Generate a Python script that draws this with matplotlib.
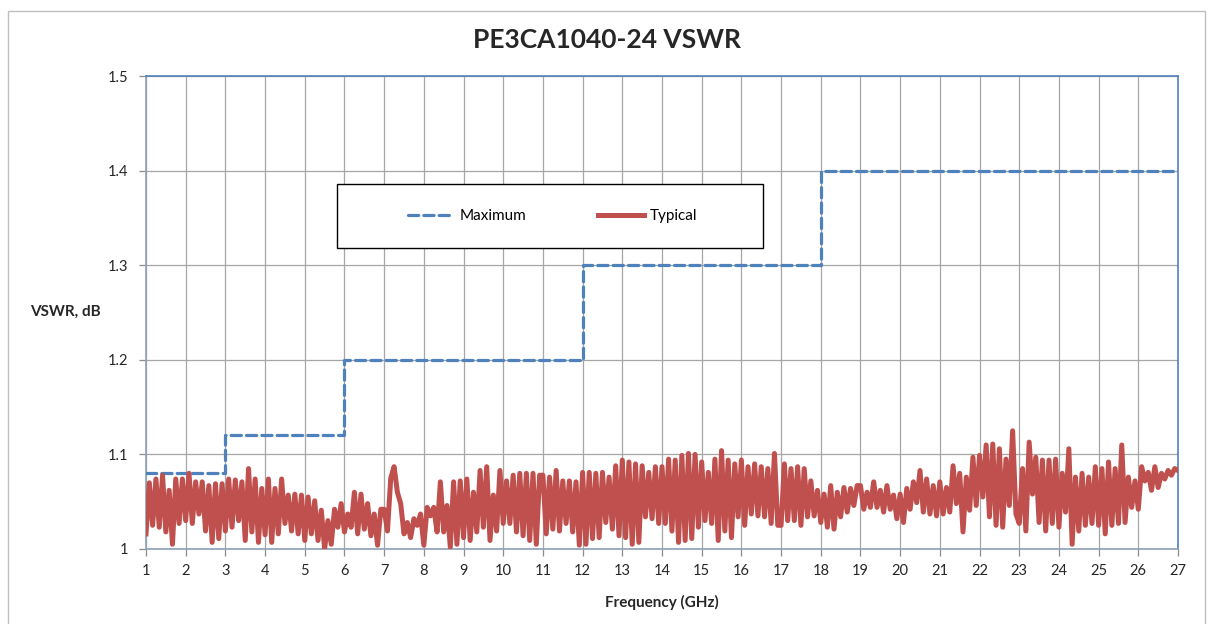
import numpy as np
import matplotlib
matplotlib.use("Agg")
import matplotlib.pyplot as plt
from matplotlib.patches import Rectangle
from matplotlib.ticker import FormatStrFormatter, MultipleLocator

plt.rcParams["font.family"] = ["Lato", "DejaVu Sans"]

# Maximum VSWR spec: step breakpoints (GHz) and levels
max_freq = [1, 3, 6, 12, 18, 27]
max_vswr = [1.08, 1.12, 1.20, 1.30, 1.40, 1.40]

# Typical measured VSWR, read off the trace as alternating peaks/troughs,
# 12 readings per GHz from 1 to 27 GHz
typical_rows = [
    [1.016, 1.070, 1.025, 1.074, 1.023, 1.078, 1.018, 1.062, 1.005, 1.074, 1.027, 1.074],  # 1-2
    [1.030, 1.080, 1.027, 1.071, 1.037, 1.071, 1.019, 1.067, 1.007, 1.069, 1.011, 1.069],  # 2-3
    [1.019, 1.074, 1.023, 1.073, 1.030, 1.071, 1.009, 1.085, 1.018, 1.074, 1.007, 1.064],  # 3-4
    [1.015, 1.074, 1.007, 1.064, 1.016, 1.074, 1.027, 1.057, 1.019, 1.058, 1.016, 1.057],  # 4-5
    [1.009, 1.055, 1.016, 1.051, 1.009, 1.041, 1.000, 1.030, 1.005, 1.042, 1.023, 1.048],  # 5-6
    [1.018, 1.037, 1.023, 1.060, 1.016, 1.058, 1.021, 1.048, 1.014, 1.037, 1.004, 1.042],  # 6-7
    [1.042, 1.019, 1.075, 1.087, 1.060, 1.048, 1.016, 1.028, 1.012, 1.032, 1.025, 1.037],  # 7-8
    [1.004, 1.044, 1.035, 1.044, 1.018, 1.071, 1.018, 1.046, 1.002, 1.071, 1.005, 1.072],  # 8-9
    [1.012, 1.074, 1.009, 1.060, 1.018, 1.083, 1.023, 1.087, 1.009, 1.057, 1.019, 1.083],  # 9-10
    [1.027, 1.072, 1.027, 1.078, 1.018, 1.080, 1.014, 1.080, 1.009, 1.080, 1.005, 1.078],  # 10-11
    [1.078, 1.016, 1.076, 1.021, 1.083, 1.019, 1.072, 1.027, 1.072, 1.018, 1.071, 1.004],  # 11-12
    [1.081, 1.005, 1.081, 1.011, 1.080, 1.012, 1.081, 1.028, 1.076, 1.021, 1.088, 1.014],  # 12-13
    [1.094, 1.012, 1.092, 1.005, 1.090, 1.007, 1.088, 1.034, 1.081, 1.032, 1.087, 1.027],  # 13-14
    [1.087, 1.027, 1.095, 1.019, 1.094, 1.007, 1.099, 1.009, 1.101, 1.011, 1.100, 1.023],  # 14-15
    [1.092, 1.030, 1.081, 1.027, 1.095, 1.009, 1.104, 1.019, 1.094, 1.012, 1.090, 1.034],  # 15-16
    [1.094, 1.025, 1.087, 1.037, 1.090, 1.035, 1.087, 1.034, 1.085, 1.027, 1.101, 1.025],  # 16-17
    [1.025, 1.090, 1.030, 1.085, 1.030, 1.087, 1.025, 1.085, 1.034, 1.072, 1.035, 1.062],  # 17-18
    [1.028, 1.058, 1.023, 1.067, 1.021, 1.060, 1.034, 1.065, 1.039, 1.064, 1.046, 1.067],  # 18-19
    [1.067, 1.042, 1.060, 1.044, 1.071, 1.044, 1.062, 1.039, 1.067, 1.042, 1.057, 1.032],  # 19-20
    [1.058, 1.028, 1.064, 1.042, 1.071, 1.049, 1.083, 1.039, 1.074, 1.037, 1.067, 1.035],  # 20-21
    [1.071, 1.037, 1.065, 1.039, 1.088, 1.048, 1.080, 1.018, 1.076, 1.041, 1.097, 1.046],  # 21-22
    [1.099, 1.055, 1.110, 1.034, 1.111, 1.025, 1.106, 1.023, 1.095, 1.046, 1.125, 1.037],  # 22-23
    [1.027, 1.085, 1.019, 1.113, 1.058, 1.097, 1.028, 1.094, 1.019, 1.094, 1.027, 1.095],  # 23-24
    [1.023, 1.080, 1.039, 1.106, 1.005, 1.076, 1.019, 1.080, 1.025, 1.076, 1.027, 1.087],  # 24-25
    [1.025, 1.085, 1.016, 1.092, 1.025, 1.085, 1.027, 1.110, 1.028, 1.076, 1.044, 1.072],  # 25-26
    [1.042, 1.087, 1.072, 1.081, 1.062, 1.087, 1.065, 1.080, 1.074, 1.083, 1.078, 1.085],  # 26-27
]
typical_end = 1.083

typical_vswr = np.array([v for row in typical_rows for v in row] + [typical_end])
typical_freq = np.linspace(1, 27, len(typical_vswr))

fig = plt.figure(figsize=(12.12, 6.24), dpi=100)
ax = fig.add_axes([146 / 1212, 75 / 624, 1032 / 1212, 473 / 624])

# outer chart frame
fig.patches.append(Rectangle((8 / 1212, -0.01), 1197 / 1212, 0.992,
                             transform=fig.transFigure, fill=False,
                             edgecolor="#BFBFBF", linewidth=1.0))

ax.plot(max_freq, max_vswr, drawstyle="steps-post", color="#4F81BD",
        linewidth=2.3, linestyle=(0, (3.2, 1.6)), dash_capstyle="round",
        label="Maximum", zorder=3)
ax.plot(typical_freq, typical_vswr, color="#C0504D", linewidth=3.6,
        label="Typical", zorder=4, solid_joinstyle="round")

ax.set_xlim(1, 27)
ax.set_ylim(1.0, 1.5)
ax.xaxis.set_major_locator(MultipleLocator(1))
ax.yaxis.set_major_locator(MultipleLocator(0.1))
ax.yaxis.set_major_formatter(FormatStrFormatter("%g"))
ax.grid(True, color="#A6A6A6", linewidth=0.9)
ax.set_axisbelow(True)
ax.tick_params(axis="both", direction="out", length=5, width=0.9,
               color="#8C8C8C", labelsize=10.5, labelcolor="#262626")
ax.tick_params(axis="x", pad=6)
ax.tick_params(axis="y", pad=8)

for side in ("top", "right"):
    ax.spines[side].set_color("#4F81BD")
    ax.spines[side].set_linewidth(1.2)
for side in ("left", "bottom"):
    ax.spines[side].set_color("#8EA0B8")
    ax.spines[side].set_linewidth(1.2)

fig.text(607 / 1212, 1 - 40 / 624, "PE3CA1040-24 VSWR", fontsize=19,
         fontweight="bold", color="#262626", ha="center", va="center")
ax.set_xlabel("Frequency (GHz)", fontsize=11, fontweight="bold",
              color="#262626", labelpad=12)
fig.text(30 / 1212, 1 - 312 / 624, "VSWR, dB", fontsize=11,
         fontweight="bold", color="#262626", ha="left", va="center")

# legend box as in the original layout
ax.add_patch(Rectangle((0.185, 0.636), 0.413, 0.136, transform=ax.transAxes,
                       facecolor="white", edgecolor="black", linewidth=1.0,
                       zorder=5))
leg = ax.legend(loc="center", bbox_to_anchor=(0.394, 0.704), ncol=2,
                frameon=False, fontsize=11, handlelength=3.0,
                handletextpad=0.35, columnspacing=4.7)
leg.set_zorder(6)

fig.savefig("out.png", dpi=100)
